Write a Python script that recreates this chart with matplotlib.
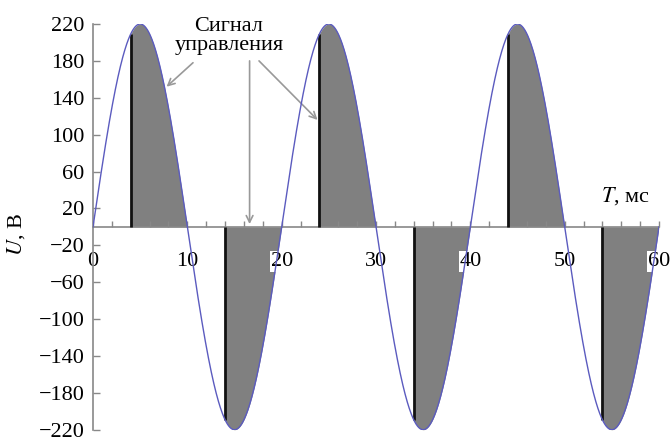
import numpy as np
import matplotlib
matplotlib.use("Agg")
import matplotlib.pyplot as plt

plt.rcParams['font.family'] = ['Liberation Serif', 'DejaVu Serif']
plt.rcParams['mathtext.fontset'] = 'stix'

# data
amplitude = 220.0          # V
period = 20.0              # ms
t_end = 60.0               # ms
fire_times = [4, 14, 24, 34, 44, 54]   # ms, firing points of the thyristor
half_ends = [10, 20, 30, 40, 50, 60]   # ms, end of each conducting half-wave
x_ticks = [0, 10, 20, 30, 40, 50, 60]
y_ticks = [220, 180, 140, 100, 60, 20, -20, -60, -100, -140, -180, -220]
annot_text = "Сигнал\nуправления"

FS = 16

t = np.linspace(0, t_end, 2000)
u = amplitude * np.sin(2 * np.pi * t / period)

fig = plt.figure(figsize=(6.71, 4.43), dpi=100)
ax = fig.add_axes([0.1386, 0.030, 0.8435, 0.9158])

for tf, te in zip(fire_times, half_ends):
    tt = np.linspace(tf, te, 300)
    uu = amplitude * np.sin(2 * np.pi * tt / period)
    ax.fill_between(tt, 0, uu, color='#808080', lw=0, zorder=1)
    ax.plot([tf, tf], [0, uu[0]], color='#111111', lw=2, zorder=3, solid_capstyle='butt')

ax.plot(t, u, color='#5b5bbf', lw=1.0, zorder=4)

ax.set_xlim(0, t_end)
ax.set_ylim(-220, 220)

for s in ['top', 'right']:
    ax.spines[s].set_visible(False)
ax.spines['bottom'].set_position(('data', 0))
ax.spines['bottom'].set_color('#888888')
ax.spines['bottom'].set_linewidth(1.2)
ax.spines['bottom'].set_zorder(2)
ax.spines['left'].set_color('#888888')
ax.spines['left'].set_linewidth(1.2)

ax.set_xticks(x_ticks)
ax.set_xticks(np.arange(0, 61, 2), minor=True)
ax.set_yticks(y_ticks)
ax.set_yticklabels([str(v).replace('-', '\u2212') for v in y_ticks])
ax.tick_params(axis='x', which='both', direction='in', length=4, width=1, color='#888888',
               labelsize=FS, pad=18)
ax.tick_params(axis='y', direction='in', length=5, width=1, color='#888888',
               labelsize=FS, pad=6)
for lab in ax.get_xticklabels():
    lab.set_bbox(dict(facecolor='white', edgecolor='none', pad=0.5))
    lab.set_zorder(6)

ax.set_ylabel(r'$U$, В', fontsize=FS, labelpad=2)
ax.yaxis.set_label_coords(-0.117, 0.48)

ax.text(56.4, 33, r'$T$, мс', fontsize=FS, ha='center', va='center')

ax.text(14.4, 207, annot_text, fontsize=FS, ha='center', va='center', linespacing=1.0)
arrow_kw = dict(arrowstyle='->', color='#999999', lw=1.2, shrinkA=0, shrinkB=0,
                mutation_scale=12)
ax.annotate('', xy=(7.8, 152), xytext=(10.6, 178), arrowprops=arrow_kw)
ax.annotate('', xy=(16.6, 3), xytext=(16.6, 180), arrowprops=arrow_kw)
ax.annotate('', xy=(23.8, 116), xytext=(17.6, 180), arrowprops=arrow_kw)

fig.savefig('out.png', dpi=100)
